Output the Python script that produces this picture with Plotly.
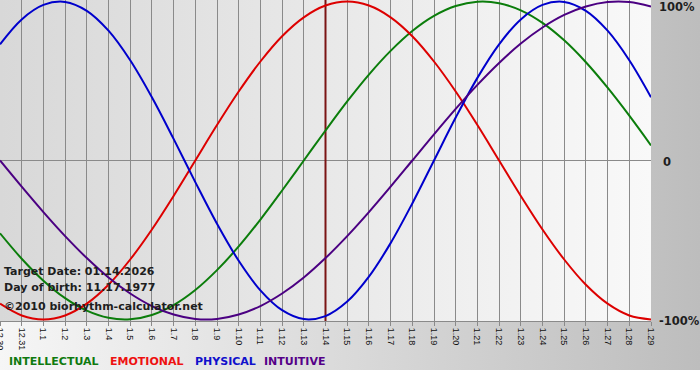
import plotly.graph_objects as go

# ---- data ----
day_labels = ["12.30", "12.31", "1.1", "1.2", "1.3", "1.4", "1.5", "1.6", "1.7", "1.8",
              "1.9", "1.10", "1.11", "1.12", "1.13", "1.14", "1.15", "1.16", "1.17", "1.18",
              "1.19", "1.20", "1.21", "1.22", "1.23", "1.24", "1.25", "1.26", "1.27", "1.28", "1.29"]
target_label = "1.14"

intellectual = [-0.458, -0.618, -0.756, -0.866, -0.945, -0.990, -0.999, -0.972, -0.910, -0.815,
                -0.690, -0.541, -0.372, -0.189, 0.0, 0.189, 0.372, 0.541, 0.690, 0.815,
                0.910, 0.972, 0.999, 0.990, 0.945, 0.866, 0.756, 0.618, 0.458, 0.282, 0.095]
emotional = [-0.901, -0.975, -1.0, -0.975, -0.901, -0.782, -0.623, -0.434, -0.223, 0.0,
             0.223, 0.434, 0.623, 0.782, 0.901, 0.975, 1.0, 0.975, 0.901, 0.782,
             0.623, 0.434, 0.223, 0.0, -0.223, -0.434, -0.623, -0.782, -0.901, -0.975, -1.0]
physical = [0.731, 0.888, 0.979, 0.998, 0.942, 0.817, 0.631, 0.398, 0.136, -0.136,
            -0.398, -0.631, -0.817, -0.942, -0.998, -0.979, -0.888, -0.731, -0.520, -0.270,
            0.0, 0.270, 0.520, 0.731, 0.888, 0.979, 0.998, 0.942, 0.817, 0.631, 0.398]
intuitive = [0.0, -0.165, -0.325, -0.476, -0.614, -0.736, -0.837, -0.916, -0.969, -0.997,
             -0.997, -0.969, -0.916, -0.837, -0.736, -0.614, -0.476, -0.325, -0.165, 0.0,
             0.165, 0.325, 0.476, 0.614, 0.736, 0.837, 0.916, 0.969, 0.997, 0.997, 0.969]

series_names = ["INTELLECTUAL", "EMOTIONAL", "PHYSICAL", "INTUITIVE"]
series_colors = ["#0b7d0b", "#dd0000", "#0000cc", "#4b0082"]
legend_colors = ["#0f7a0f", "#ee1111", "#1010cc", "#550088"]

y_tick_vals = [1, 0, -1]
y_tick_text = ["100%", "0", "-100%"]

W, H = 700, 380
PLOT_R = 651   # px
PLOT_B = 321   # px
GRAY_B = 370   # px

x_idx = list(range(len(day_labels)))
target_idx = day_labels.index(target_label)

fig = go.Figure()

# ---- background gradients (pixel-coordinate helper subplot) ----
fig.add_trace(go.Scatter(
    x=[0, W, W, 0, 0], y=[0, 0, GRAY_B, GRAY_B, 0], mode="lines", fill="toself",
    line=dict(width=0), fillgradient=dict(type="horizontal",
                                          colorscale=[[0, "#f6f6f6"], [1, "#bdbdbd"]]),
    hoverinfo="skip", showlegend=False, xaxis="x", yaxis="y"))
fig.add_trace(go.Scatter(
    x=[0, PLOT_R, PLOT_R, 0, 0], y=[0, 0, PLOT_B, PLOT_B, 0], mode="lines", fill="toself",
    line=dict(width=0), fillgradient=dict(type="horizontal",
                                          colorscale=[[0, "#d8d8d8"], [1, "#f9f9f9"]]),
    hoverinfo="skip", showlegend=False, xaxis="x", yaxis="y"))

# ---- target date line ----
fig.add_trace(go.Scatter(
    x=[target_idx, target_idx], y=[-1.02, 1.02], mode="lines",
    line=dict(color="#7a1414", width=2), hoverinfo="skip", showlegend=False,
    xaxis="x2", yaxis="y2"))

# ---- curves ----
for name, vals, col in zip(series_names, [intellectual, emotional, physical, intuitive], series_colors):
    fig.add_trace(go.Scatter(
        x=x_idx, y=vals, mode="lines", name=name,
        line=dict(color=col, width=2, shape="spline", smoothing=1.0),
        showlegend=False, xaxis="x2", yaxis="y2"))

annotations = []
# info texts
info = [("Target Date: 01.14.2026", 271), ("Day of birth: 11.17.1977", 287),
        ("\u00a92010 biorhythm-calculator.net", 306)]
for txt, yy in info:
    annotations.append(dict(text=txt, x=2, y=yy, xref="x", yref="y", xanchor="left",
                            yanchor="middle", showarrow=False,
                            font=dict(family="DejaVu Sans", size=11, color="#1e1e1e",
                                      weight="bold")))
# right-side value labels
ylab_pos = [7, 162, 321]
for txt, yy in zip(y_tick_text, ylab_pos):
    annotations.append(dict(text=txt, x=657 if txt != "0" else 661, y=yy, xref="x", yref="y",
                            xanchor="left", yanchor="middle", showarrow=False,
                            font=dict(family="DejaVu Sans", size=11.5, color="#1e1e1e",
                                      weight="bold")))
# legend words
legend_x = [7, 108, 193, 262]
for name, col, lx in zip(series_names, legend_colors, legend_x):
    annotations.append(dict(text=name, x=lx, y=361, xref="x", yref="y", xanchor="left",
                            yanchor="middle", showarrow=False,
                            font=dict(family="DejaVu Sans", size=11, color=col,
                                      weight="bold")))

fig.update_layout(
    width=W, height=H, margin=dict(l=0, r=0, t=0, b=0, pad=0, autoexpand=False),
    paper_bgcolor="#ffffff", plot_bgcolor="rgba(0,0,0,0)",
    showlegend=False,
    xaxis=dict(domain=[0, 1], range=[0, W], visible=False, fixedrange=True, automargin=False),
    yaxis=dict(domain=[0, 1], range=[H, 0], visible=False, fixedrange=True, automargin=False),
    xaxis2=dict(domain=[0, PLOT_R / W], range=[0, len(day_labels) - 1], anchor="y2",
                tickmode="array", tickvals=x_idx, ticktext=day_labels, tickangle=90,
                ticks="outside", ticklen=4, tickcolor="#8a8a8a", tickwidth=1,
                showgrid=True, gridcolor="#8a8a8a", gridwidth=1,
                showline=True, linecolor="#8a8a8a", linewidth=1,
                zeroline=False, ticklabeloverflow="allow", automargin=False,
                tickfont=dict(family="Liberation Sans", size=9, color="#111111")),
    yaxis2=dict(domain=[(H - PLOT_B) / H, 1], range=[-1.01, 1.01], anchor="x2",
                showticklabels=False, showgrid=False, ticks="", automargin=False,
                zeroline=True, zerolinecolor="#8a8a8a", zerolinewidth=1),
    annotations=annotations,
)

fig.write_html("out.html", config={"displayModeBar": False},
               post_script="document.body.style.margin='0';document.body.style.overflow='hidden';")
